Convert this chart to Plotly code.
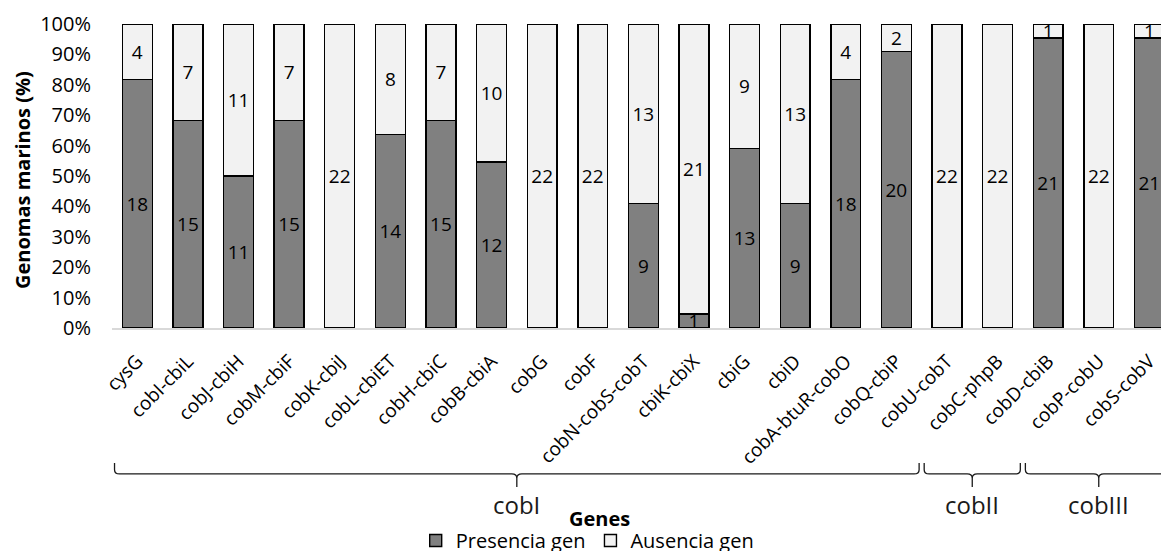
import plotly.graph_objects as go

# Genes of the cobalamin pathway and their counts across 22 marine genomes
genes = [
    "cysG", "cobI-cbiL", "cobJ-cbiH", "cobM-cbiF", "cobK-cbiJ", "cobL-cbiET",
    "cobH-cbiC", "cobB-cbiA", "cobG", "cobF", "cobN-cobS-cobT", "cbiK-cbiX",
    "cbiG", "cbiD", "cobA-btuR-cobO", "cobQ-cbiP", "cobU-cobT", "cobC-phpB",
    "cobD-cbiB", "cobP-cobU", "cobS-cobV",
]
presencia = [18, 15, 11, 15, 0, 14, 15, 12, 0, 0, 9, 1, 13, 9, 18, 20, 0, 0, 21, 0, 21]
ausencia = [4, 7, 11, 7, 22, 8, 7, 10, 22, 22, 13, 21, 9, 13, 4, 2, 22, 22, 1, 22, 1]

# Pathway sections: (name, first gene index, last gene index)
grupos = [("cobI", 0, 15), ("cobII", 16, 17), ("cobIII", 18, 20)]

y_ticks = [0, 10, 20, 30, 40, 50, 60, 70, 80, 90, 100]

FONT = "Open Sans"
W, H = 1161, 551
M_L, M_R, M_T, M_B = 112, 0, 24, 223


def labels(vals):
    return [str(v) if v > 0 else "" for v in vals]


fig = go.Figure()
for name, vals, color in [
    ("Presencia gen", presencia, "#808080"),
    ("Ausencia gen", ausencia, "#F2F2F2"),
]:
    fig.add_trace(go.Bar(
        x=genes, y=vals, name=name,
        marker=dict(color=color, line=dict(color="#000000", width=1.4)),
        text=labels(vals), textposition="inside", insidetextanchor="middle",
        textangle=0, textfont=dict(family=FONT, size=19, color="#000000"),
        cliponaxis=True, hoverinfo="skip",
    ))

# Curly braces below the gene labels marking each pathway section
pad, r = 0.45, 0.1
y_top, y_line, y_bot = -0.444, -0.480, -0.523
dy = 0.014
for nombre, i0, i1 in grupos:
    x0, x1 = i0 - pad, i1 + pad
    xm = (i0 + i1) / 2
    path = (
        f"M {x0},{y_top} L {x0},{y_line + dy} Q {x0},{y_line} {x0 + r},{y_line} "
        f"L {xm - r},{y_line} Q {xm},{y_line} {xm},{y_line - dy} L {xm},{y_bot} "
        f"M {xm},{y_line - dy} Q {xm},{y_line} {xm + r},{y_line} "
        f"L {x1 - r},{y_line} Q {x1},{y_line} {x1},{y_line + dy} L {x1},{y_top}"
    )
    fig.add_shape(type="path", path=path, xref="x", yref="paper",
                  line=dict(color="#1a1a1a", width=1.3))
    fig.add_annotation(x=xm, y=-0.579, xref="x", yref="paper", text=nombre,
                       showarrow=False, xanchor="center", yanchor="middle",
                       font=dict(family=FONT, size=24, color="#1a1a1a"))

fig.add_annotation(x=0.465, y=-0.626, xref="paper", yref="paper",
                   text="<b>Genes</b>", showarrow=False,
                   xanchor="center", yanchor="middle",
                   font=dict(family=FONT, size=20, color="#000000"))
fig.add_annotation(x=-0.0848, y=0.487, xref="paper", yref="paper",
                   text="<b>Genomas marinos (%)</b>", showarrow=False,
                   textangle=-90, xanchor="center", yanchor="middle",
                   font=dict(family=FONT, size=20, color="#000000"))

fig.update_layout(
    width=W, height=H,
    margin=dict(l=M_L, r=M_R, t=M_T, b=M_B, autoexpand=False),
    barmode="stack", barnorm="percent", bargap=0.41,
    plot_bgcolor="#FFFFFF", paper_bgcolor="#FFFFFF",
    font=dict(family=FONT, size=19, color="#000000"),
    uniformtext=dict(minsize=19, mode="show"),
    showlegend=True,
    legend=dict(orientation="h", x=0.453, xanchor="center", y=-0.699,
                yanchor="middle", font=dict(family=FONT, size=20, color="#000000"),
                traceorder="normal", itemwidth=30, bgcolor="rgba(0,0,0,0)"),
    xaxis=dict(
        type="category", range=[-0.5, 20.23], tickangle=-45,
        showline=True, linecolor="#D9D9D9", linewidth=1.5,
        showgrid=False, ticks="", automargin=False, ticklabelstandoff=13,
        tickfont=dict(family=FONT, size=19, color="#000000"),
    ),
    yaxis=dict(
        range=[0, 100], tickvals=y_ticks, ticktext=[f"{v}%" for v in y_ticks],
        showline=False, showgrid=False, zeroline=False, ticks="",
        ticklabelstandoff=20, automargin=False,
        tickfont=dict(family=FONT, size=20, color="#000000"),
    ),
)

fig.write_html("out.html")
